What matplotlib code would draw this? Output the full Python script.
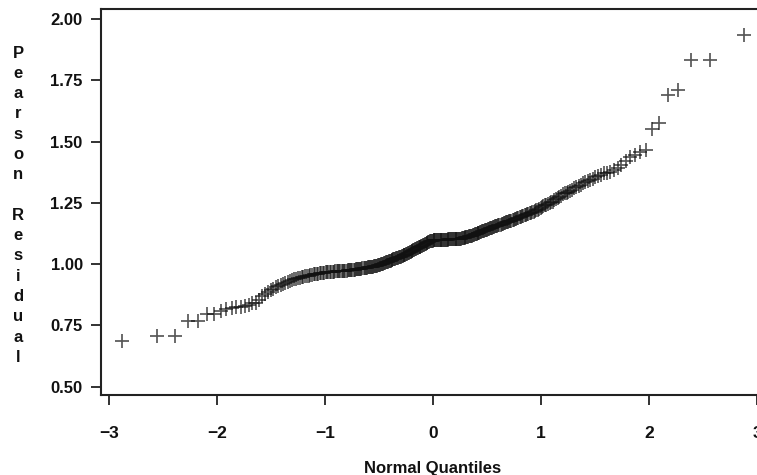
from statistics import NormalDist
import numpy as np
import matplotlib.pyplot as plt

# sorted Pearson residuals (310 obs)
resid = [
    0.687, 0.706, 0.706, 0.767, 0.767, 0.795, 0.795, 0.810, 0.817, 0.821,
    0.824, 0.826, 0.829, 0.833, 0.840, 0.843, 0.855, 0.868, 0.878, 0.886,
    0.893, 0.899, 0.905, 0.910, 0.915, 0.920, 0.924, 0.929, 0.933, 0.936,
    0.938, 0.940, 0.942, 0.944, 0.946, 0.948, 0.950, 0.952, 0.953, 0.955,
    0.957, 0.958, 0.959, 0.960, 0.961, 0.962, 0.963, 0.964, 0.965, 0.966,
    0.967, 0.967, 0.968, 0.968, 0.969, 0.969, 0.970, 0.971, 0.971, 0.972,
    0.972, 0.973, 0.973, 0.974, 0.974, 0.974, 0.975, 0.975, 0.976, 0.976,
    0.977, 0.978, 0.978, 0.979, 0.979, 0.980, 0.981, 0.981, 0.982, 0.983,
    0.984, 0.985, 0.985, 0.986, 0.987, 0.987, 0.988, 0.989, 0.989, 0.990,
    0.991, 0.992, 0.993, 0.994, 0.995, 0.996, 0.998, 0.999, 1.000, 1.002,
    1.004, 1.005, 1.007, 1.008, 1.010, 1.011, 1.013, 1.014, 1.016, 1.018,
    1.020, 1.021, 1.022, 1.024, 1.025, 1.027, 1.028, 1.030, 1.031, 1.033,
    1.034, 1.036, 1.037, 1.039, 1.040, 1.042, 1.044, 1.046, 1.048, 1.050,
    1.052, 1.054, 1.056, 1.058, 1.060, 1.062, 1.064, 1.066, 1.068, 1.070,
    1.072, 1.074, 1.076, 1.078, 1.080, 1.082, 1.084, 1.086, 1.088, 1.090,
    1.092, 1.093, 1.094, 1.095, 1.096, 1.097, 1.098, 1.098, 1.099, 1.099,
    1.100, 1.100, 1.100, 1.100, 1.100, 1.100, 1.100, 1.100, 1.100, 1.100,
    1.100, 1.100, 1.101, 1.101, 1.101, 1.101, 1.101, 1.102, 1.102, 1.102,
    1.102, 1.102, 1.103, 1.103, 1.103, 1.104, 1.104, 1.105, 1.106, 1.107,
    1.108, 1.109, 1.110, 1.111, 1.112, 1.113, 1.114, 1.115, 1.116, 1.118,
    1.120, 1.122, 1.123, 1.125, 1.126, 1.128, 1.129, 1.131, 1.132, 1.134,
    1.135, 1.137, 1.138, 1.140, 1.141, 1.143, 1.144, 1.146, 1.147, 1.149,
    1.151, 1.152, 1.154, 1.155, 1.157, 1.158, 1.160, 1.161, 1.163, 1.165,
    1.167, 1.168, 1.170, 1.172, 1.173, 1.175, 1.177, 1.178, 1.180, 1.182,
    1.184, 1.186, 1.188, 1.189, 1.191, 1.193, 1.195, 1.197, 1.199, 1.201,
    1.204, 1.206, 1.208, 1.210, 1.212, 1.214, 1.216, 1.219, 1.222, 1.225,
    1.231, 1.234, 1.237, 1.240, 1.243, 1.246, 1.249, 1.252, 1.255, 1.260,
    1.265, 1.270, 1.275, 1.280, 1.285, 1.289, 1.292, 1.295, 1.300, 1.304,
    1.309, 1.315, 1.320, 1.325, 1.330, 1.334, 1.339, 1.344, 1.349, 1.354,
    1.359, 1.364, 1.370, 1.373, 1.377, 1.383, 1.392, 1.405, 1.420, 1.438,
    1.445, 1.458, 1.465, 1.550, 1.577, 1.690, 1.710, 1.833, 1.833, 1.935,
]

xticks = [-3, -2, -1, 0, 1, 2, 3]
yticks = [0.50, 0.75, 1.00, 1.25, 1.50, 1.75, 2.00]
ylabel = "Pearson Residual"

# Blom plotting positions -> normal quantiles
n = len(resid)
nd = NormalDist()
q = [nd.inv_cdf((i - 0.375) / (n + 0.25)) for i in range(1, n + 1)]

plt.rcParams['font.family'] = ['Liberation Sans', 'DejaVu Sans']
plt.rcParams['font.weight'] = 'bold'

fig = plt.figure(figsize=(7.57, 4.75), dpi=100)
ax = fig.add_axes([100.7 / 757, 80 / 475, 690 / 757, 385.7 / 475])

ax.plot(q, resid, linestyle='none', marker='+', ms=9.5, mew=1.25,
        color='#111111', alpha=0.7)

ax.set_xlim(-3.077, 3.31)
ax.set_ylim(0.466, 2.04)
ax.set_xticks(xticks)
ax.set_yticks(yticks)
ax.set_xticklabels([str(t).replace('-', '\u2212') for t in xticks])
ax.set_yticklabels([f"{t:.2f}" for t in yticks])

for s in ax.spines.values():
    s.set_linewidth(1.5)
    s.set_color('#222222')
ax.spines['right'].set_visible(False)

ax.tick_params(axis='both', labelsize=12, width=1.3, color='#222222', length=7,
               labelcolor='#111111')
ax.tick_params(axis='x', labelsize=12.5)
ax.tick_params(axis='y', pad=6)
ax.tick_params(axis='x', pad=15)

fig.text(433 / 757, 1 - 468 / 475, "Normal Quantiles", ha='center', va='center',
         fontsize=12, fontweight='bold', color='#111111')

# vertical stacked y-label
row = 0
for ch in ylabel:
    if ch != ' ':
        fig.text(18 / 757, 1 - (53 + row * 20.3) / 475, ch, ha='center',
                 va='center', fontsize=12, fontweight='bold', color='#111111')
    row += 1

fig.savefig("out.png", dpi=100)
